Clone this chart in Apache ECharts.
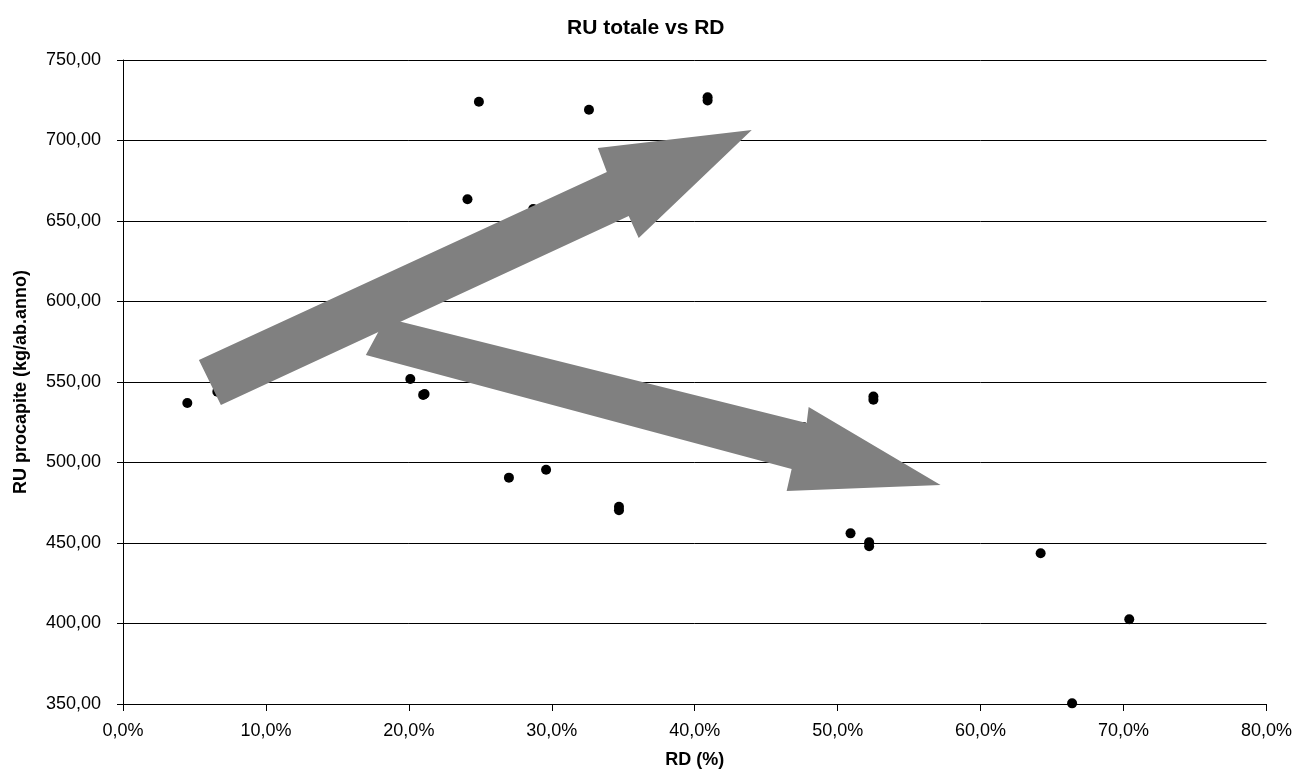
<!DOCTYPE html>
<html>
<head>
<meta charset="utf-8">
<script src="https://cdn.jsdelivr.net/npm/echarts@6/dist/echarts.min.js"></script>
<style>
html,body{margin:0;padding:0;background:#fff;}
#chart{width:1295px;height:774px;}
</style>
</head>
<body>
<div id="chart"></div>
<script>
// RD (%) values
const rdValues = [4.5, 6.6, 20.1, 21.0, 21.1, 24.1, 24.9, 28.7, 32.6, 40.9, 40.9,
  27.0, 29.6, 34.7, 34.7, 47.6, 50.9, 52.2, 52.2, 52.5, 52.5, 64.2, 70.4, 66.4];
// RU procapite (kg/ab.anno)
const ruValues = [537.0, 544.0, 551.9, 542.0, 542.5, 663.5, 724.1, 657.5, 719.1, 724.8, 726.8,
  490.6, 495.5, 470.3, 472.5, 522.0, 456.0, 448.0, 450.5, 539.0, 541.0, 443.6, 402.6, 350.4];
const yTicks = [350, 400, 450, 500, 550, 600, 650, 700, 750];
const xTicks = [0, 10, 20, 30, 40, 50, 60, 70, 80];
// Annotation arrows, vertices in data coordinates (RD %, RU)
const arrowUp = [[5.31,563.7],[33.85,680.4],[33.22,695.3],[43.99,706.5],[36.08,639.4],[35.38,653.1],[6.85,535.7]];
const arrowDown = [[18.39,589.8],[47.83,524.5],[47.97,534.5],[57.20,486.0],[46.43,482.3],[46.78,496.0],[16.99,566.8]];

const arrows = [arrowUp, arrowDown];
const points = rdValues.map((x, i) => [x, ruValues[i]]);
const FONT = '"Liberation Sans", Arial, sans-serif';

const chart = echarts.init(document.getElementById('chart'), null, {renderer: 'canvas'});
chart.setOption({
  animation: false,
  backgroundColor: '#fff',
  title: {
    text: 'RU totale vs RD',
    left: 562,
    top: 13,
    textStyle: {fontFamily: FONT, fontSize: 21, fontWeight: 'bold', color: '#000'}
  },
  grid: {left: 123, right: 28, top: 60, bottom: 70},
  xAxis: {
    type: 'value',
    min: xTicks[0], max: xTicks[xTicks.length - 1], interval: 10,
    name: 'RD (%)',
    nameLocation: 'middle',
    nameGap: 47,
    nameTextStyle: {fontFamily: FONT, fontSize: 18, fontWeight: 'bold', color: '#000'},
    axisLine: {show: true, onZero: false, lineStyle: {color: '#000', width: 1}},
    axisTick: {show: true, length: 7, lineStyle: {color: '#000'}},
    axisLabel: {
      fontFamily: FONT, fontSize: 18, color: '#000', margin: 18,
      formatter: v => v.toFixed(1).replace('.', ',') + '%'
    },
    splitLine: {show: false}
  },
  yAxis: {
    type: 'value',
    min: yTicks[0], max: yTicks[yTicks.length - 1], interval: 50,
    name: 'RU procapite (kg/ab.anno)',
    nameLocation: 'middle',
    nameGap: 93,
    nameRotate: 90,
    nameTextStyle: {fontFamily: FONT, fontSize: 18, fontWeight: 'bold', color: '#000'},
    axisLine: {show: true, onZero: false, lineStyle: {color: '#000', width: 1}},
    axisTick: {show: true, length: 6, lineStyle: {color: '#000'}},
    axisLabel: {
      fontFamily: FONT, fontSize: 18, color: '#000', margin: 22,
      formatter: v => v.toFixed(2).replace('.', ',')
    },
    splitLine: {show: true, lineStyle: {color: '#000', width: 1}}
  },
  series: [
    {
      type: 'scatter',
      data: points,
      symbol: 'circle',
      symbolSize: 10,
      itemStyle: {color: '#000', opacity: 1},
      z: 2,
      silent: true
    },
    {
      type: 'custom',
      data: arrows.map((a, i) => [a[0][0], a[0][1], i]),
      silent: true,
      z: 5,
      clip: false,
      renderItem: function (params, api) {
        const pts = arrows[params.dataIndex].map(p => api.coord(p));
        return {
          type: 'polygon',
          shape: {points: pts},
          style: {fill: '#808080', stroke: null}
        };
      }
    }
  ]
});
</script>
</body>
</html>
